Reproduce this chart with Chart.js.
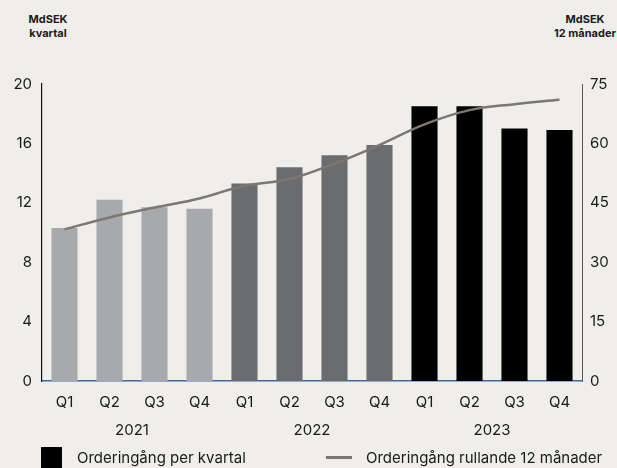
<!DOCTYPE html>
<html>
<head>
<meta charset="utf-8">
<script src="https://cdn.jsdelivr.net/npm/chart.js@4"></script>
<style>
  html, body { margin: 0; padding: 0; background: #efeeea; }
  body { width: 617px; height: 468px; position: relative; overflow: hidden; font-family: Inter, "Noto Sans", sans-serif; color: #1a1a1a; }
  #wrap { position: absolute; left: 0; top: 0; width: 617px; height: 468px; }
  .unit { position: absolute; font-size: 11px; font-weight: 700; line-height: 14px; text-align: center; }
  .legend { position: absolute; font-size: 15px; line-height: 17px; }
</style>
</head>
<body>
<div class="unit" style="left:18px; top:12px; width:60px;">MdSEK<br>kvartal</div>
<div class="unit" style="right:-6px; top:12px; width:76px;">MdSEK<br>12 månader</div>
<div id="wrap"><canvas id="orderChart" width="617" height="468"></canvas></div>
<div class="legend" style="left:41px; top:447px; width:21px; height:21px; background:#000;"></div>
<div class="legend" style="left:77px; top:449px;">Orderingång per kvartal</div>
<div class="legend" style="left:326px; top:456px; width:26px; height:3px; background:#7d7672;"></div>
<div class="legend" style="left:366px; top:449px;">Orderingång rullande 12 månader</div>
<script>
const quarters = ['Q1', 'Q2', 'Q3', 'Q4', 'Q1', 'Q2', 'Q3', 'Q4', 'Q1', 'Q2', 'Q3', 'Q4'];
const years = ['2021', '2022', '2023'];
const orderPerQuarter = [10.3, 12.2, 11.7, 11.6, 13.3, 14.4, 15.2, 15.9, 18.5, 18.5, 17.0, 16.9];
const orderRolling12m = [38.3, 41.3, 43.8, 46.1, 49.3, 51.0, 54.9, 59.6, 64.8, 68.4, 69.9, 71.0];
const leftTicks = [0, 4, 8, 12, 16, 20];
const rightTicks = [0, 15, 30, 45, 60, 75];

const yearColors = ['#a8a9ac', '#6b6c70', '#000000'];
const barColors = quarters.map((q, i) => yearColors[Math.floor(i / 4)]);

// year labels under each group of four quarters
const yearLabels = {
    id: 'yearLabels',
    afterDraw(chart) {
        const ctx = chart.ctx;
        const x = chart.scales.x;
        ctx.save();
        ctx.font = '15px Inter, "Noto Sans", sans-serif';
        ctx.fillStyle = '#1a1a1a';
        ctx.textAlign = 'center';
        ctx.textBaseline = 'middle';
        years.forEach((yr, g) => {
            const px = (x.getPixelForValue(g * 4 + 1) + x.getPixelForValue(g * 4 + 2)) / 2;
            ctx.fillText(yr, px, 430);
        });
        ctx.restore();
    }
};

const ctx = document.getElementById('orderChart').getContext('2d');
new Chart(ctx, {
    data: {
        labels: quarters,
        datasets: [{
            type: 'line',
            label: 'Orderingång rullande 12 månader',
            data: orderRolling12m,
            yAxisID: 'y1',
            borderColor: '#7d7672',
            borderWidth: 2.5,
            pointRadius: 0,
            tension: 0.4,
            order: 0
        }, {
            type: 'bar',
            label: 'Orderingång per kvartal',
            data: orderPerQuarter,
            yAxisID: 'y',
            backgroundColor: barColors,
            categoryPercentage: 1,
            barPercentage: 0.58,
            order: 1
        }]
    },
    options: {
        responsive: false,
        animation: false,
        layout: { padding: { top: 84, bottom: 45, left: 0, right: 0 } },
        plugins: {
            legend: { display: false },
            tooltip: { enabled: false }
        },
        scales: {
            x: {
                grid: { display: false, drawTicks: false },
                border: { display: true, color: '#3f67a0', width: 1.5 },
                ticks: { color: '#1a1a1a', padding: 12, font: { size: 15, family: 'Inter' }, maxRotation: 0 }
            },
            y: {
                position: 'left',
                min: 0,
                max: 20,
                afterBuildTicks: s => { s.ticks = leftTicks.map(v => ({ value: v })); },
                afterFit: s => { s.width = 42; },
                grid: { display: false, drawTicks: false },
                border: { display: true, color: '#111', width: 1.2 },
                ticks: { color: '#1a1a1a', padding: 10, font: { size: 15, family: 'Inter' } }
            },
            y1: {
                position: 'right',
                min: 0,
                max: 75,
                afterBuildTicks: s => { s.ticks = rightTicks.map(v => ({ value: v })); },
                afterFit: s => { s.width = 35; },
                grid: { display: false, drawTicks: false },
                border: { display: true, color: '#555', width: 1 },
                ticks: { color: '#1a1a1a', padding: 8, font: { size: 15, family: 'Inter' } }
            }
        }
    },
    plugins: [yearLabels]
});
</script>
</body>
</html>
